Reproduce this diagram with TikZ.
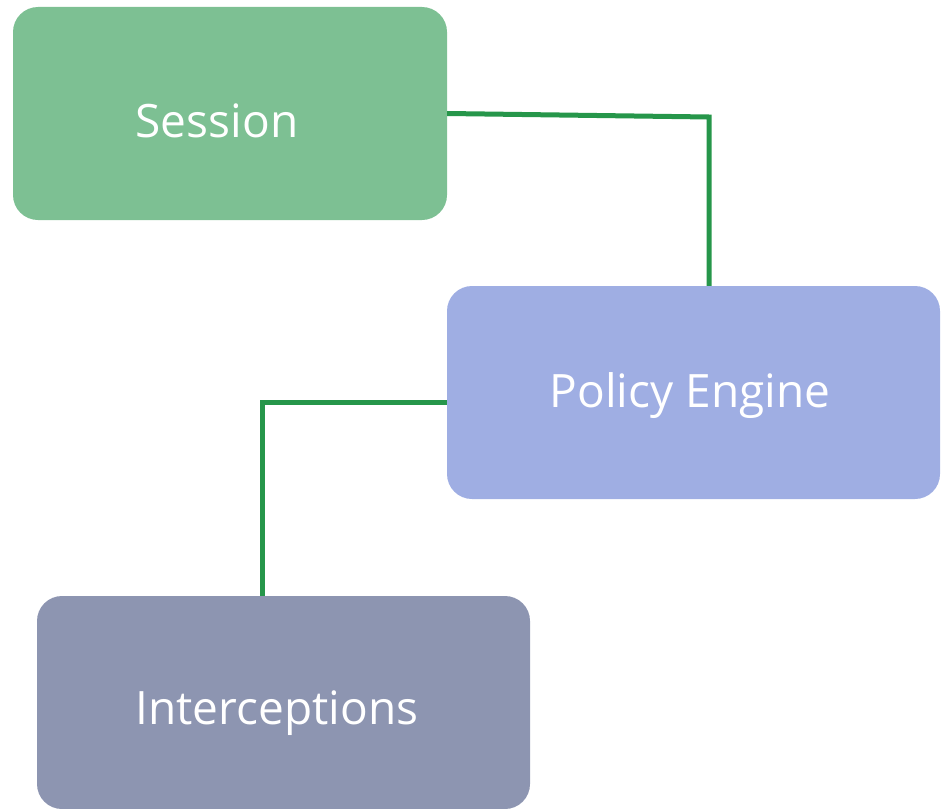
\documentclass[tikz,border=0pt]{standalone}
\usepackage{fontspec}
\setmainfont{Open Sans}
\definecolor{sessfill}{HTML}{7DC093}
\definecolor{polfill}{HTML}{9FAEE3}
\definecolor{intfill}{HTML}{8D95B1}
\definecolor{linkgreen}{HTML}{26964A}
\tikzset{
  card/.style={rectangle, rounded corners=25pt, inner sep=0pt, draw=none},
  cardtext/.style={text=white, inner sep=0pt, anchor=base, font=\fontsize{46}{54}\selectfont},
  link/.style={draw=linkgreen, line width=5pt, line join=miter}
}
\begin{document}
\begin{tikzpicture}[x=1pt, y=-1pt]
  \useasboundingbox (0,0) rectangle (944,808);
  \begin{scope}
    \clip (0,0) rectangle (944,808);
    % boxes
    \node[card, fill=sessfill, minimum width=434pt, minimum height=213pt] (s) at (230,113.5) {};
    \node[card, fill=polfill, minimum width=493pt, minimum height=213pt] (p) at (693.5,392.5) {};
    \node[card, fill=intfill, minimum width=493pt, minimum height=213pt] (i) at (283.5,702.5) {};
  \end{scope}
  % labels, placed by their baselines
  \node[cardtext] (st) at (217,137) {Session};
  \node[cardtext] (pt) at (690,407) {Policy Engine};
  \node[cardtext] (it) at (277,724) {Interceptions};
  % connectors
  \coordinate (c1) at (709,117);
  \coordinate (c2) at (262,402);
  \draw[link] (s.east) -- (c1) -- (c1 |- p.north);
  \draw[link] (p.west |- c2) -- (c2) -- (c2 |- i.north);
\end{tikzpicture}
\end{document}
